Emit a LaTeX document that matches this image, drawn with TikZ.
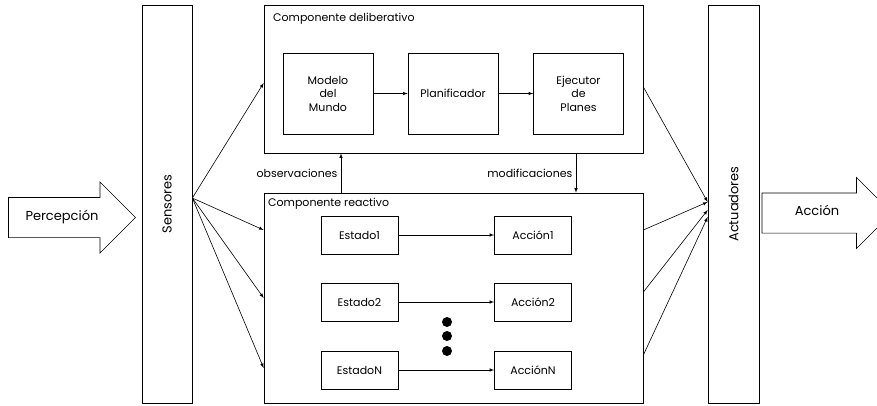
\documentclass[tikz,border=0pt]{standalone}
\usepackage{fontspec}
\setmainfont{Poppins}
\usepackage{graphicx}
\usetikzlibrary{shapes.arrows, positioning}

\begin{document}
\begin{tikzpicture}[x=1pt, y=-1pt,
    every node/.style={font=\fontsize{11}{13.5}\selectfont},
    frame/.style={rectangle, draw, line width=0.7pt},
    side/.style={rectangle, draw, line width=0.7pt, minimum height=398pt, font=\fontsize{13}{15}\selectfont},
    box/.style={rectangle, draw, line width=0.7pt, minimum width=90pt, minimum height=81pt, align=center},
    rule/.style={rectangle, draw, line width=0.7pt, minimum width=77pt, minimum height=38pt, align=center},
    bigarrow/.style={single arrow, draw, line width=0.6pt, single arrow head extend=15.5pt, text height=8pt, text depth=2.5pt, inner ysep=14.5pt, font=\fontsize{13}{15}\selectfont},
    arrow/.style={->, line width=0.6pt, >=latex}
]
    \useasboundingbox (0,0) rectangle (877,405);
    \clip (0,0) rectangle (877,405);

    % Input and output
    \node[bigarrow, minimum height=127pt] (percep) at (62,217.5) {Percepción};
    \node[bigarrow, minimum height=130pt] (accion) at (817,213) {Acción};

    % Sensors and actuators
    \node[side, minimum width=50pt] (sens) at (167,204) {\rotatebox{90}{Sensores}};
    \node[side, minimum width=51pt] (act) at (733.5,204) {\rotatebox{90}{Actuadores}};

    % Deliberative component
    \node[frame, minimum width=379pt, minimum height=148pt] (delib) at (453.5,79) {};
    \node[anchor=north west] (tdelib) at ([shift={(6,5)}]delib.north west) {Componente deliberativo};
    \node[box] (modelo) at (328,93.5) {Modelo\\del\\Mundo};
    \node[box] (plan) at (453,93.5) {Planificador};
    \node[box] (ejec) at (578.5,93.5) {Ejecutor\\de\\Planes};

    % Reactive component
    \node[frame, minimum width=379pt, minimum height=210pt] (reac) at (453.5,298) {};
    \node[anchor=north west] (treac) at ([shift={(1,2)}]reac.north west) {Componente reactivo};
    \node[rule] (est1) at (359.5,235) {Estado1};
    \node[rule] (acc1) at (533,235) {Acción1};
    \node[rule] (est2) at (359.5,302) {Estado2};
    \node[rule] (acc2) at (533,302) {Acción2};
    \node[rule] (estN) at (359.5,370) {EstadoN};
    \node[rule] (accN) at (533,370) {AcciónN};
    \foreach \y in {322,336,351}
        \fill (447,\y) circle (5pt);

    % Arrows
    \draw[arrow] (modelo) -- (plan);
    \draw[arrow] (plan) -- (ejec);
    \draw[arrow] (est1) -- (acc1);
    \draw[arrow] (est2) -- (acc2);
    \draw[arrow] (estN) -- (accN);
    \draw[arrow] (reac.north -| 341,0) -- (delib.south -| 341,0) node[midway, left] {observaciones};
    \draw[arrow] (delib.south -| 576,0) -- (reac.north -| 576,0) node[midway, left] {modificaciones};

    \coordinate (fan) at (sens.east |- 0,198);
    \draw[arrow] (fan) -- (delib.west |- 0,83);
    \draw[arrow] (fan) -- (reac.west |- 0,230);
    \draw[arrow] (fan) -- (reac.west);
    \draw[arrow] (fan) -- (reac.west |- 0,368);

    \draw[arrow] (delib.east |- 0,87) -- (act.west |- 0,202);
    \draw[arrow] (reac.east |- 0,230) -- (act.west |- 0,202);
    \draw[arrow] (reac.east |- 0,292) -- (act.west |- 0,210);
    \draw[arrow] (reac.east |- 0,355) -- (act.west |- 0,217);
\end{tikzpicture}
\end{document}
